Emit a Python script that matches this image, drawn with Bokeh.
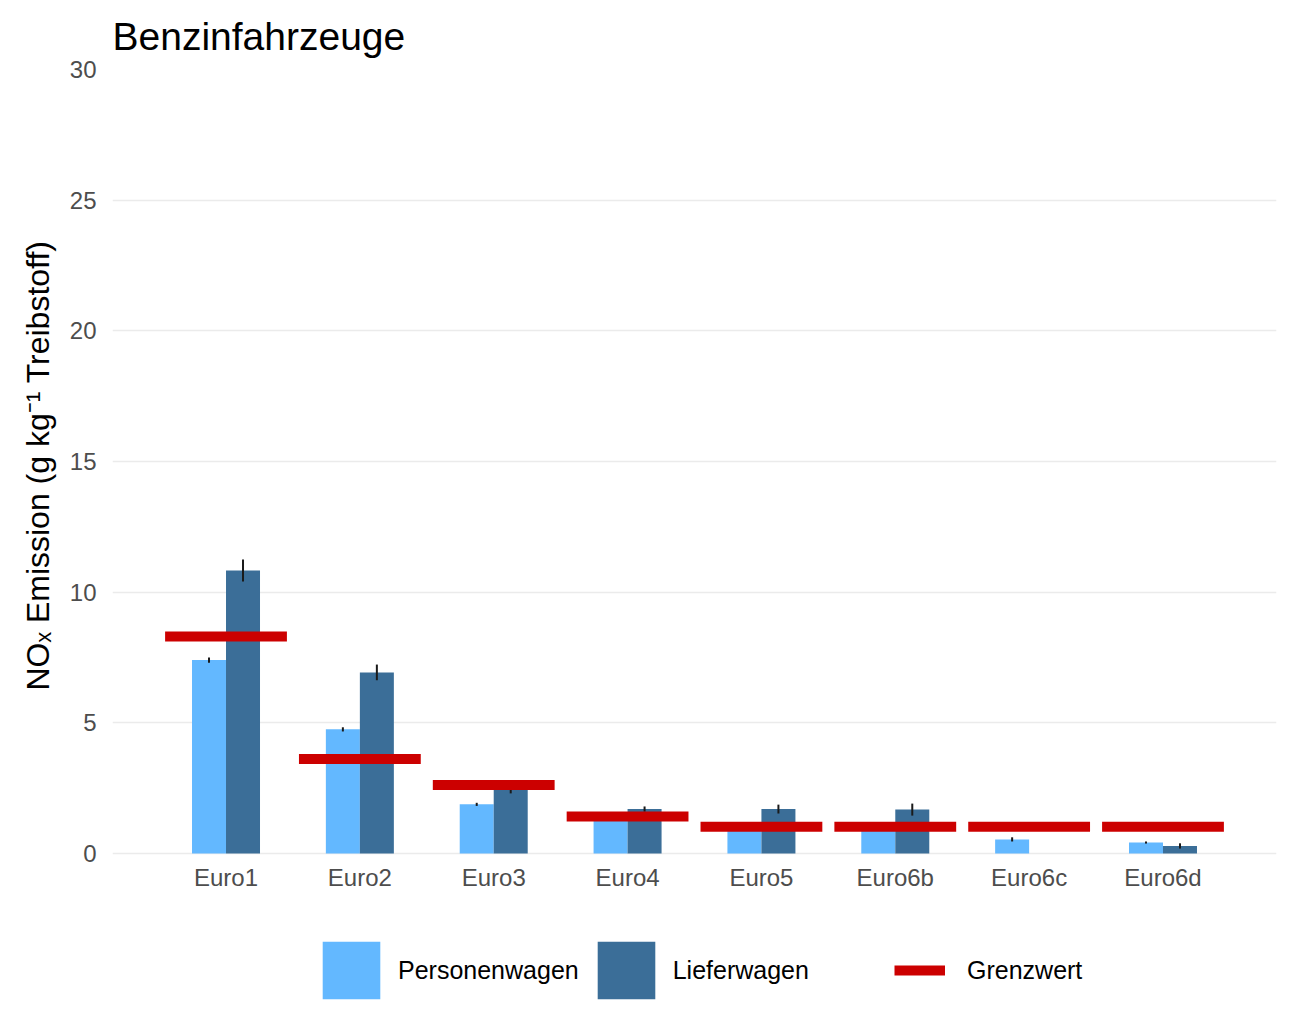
from bokeh.plotting import figure
from bokeh.models import ColumnDataSource, Legend, LegendItem, FactorRange, Range1d, Title
from bokeh.transform import dodge
from bokeh.embed import file_html
from bokeh.resources import INLINE

nan = float("nan")

categories = ["Euro1", "Euro2", "Euro3", "Euro4", "Euro5", "Euro6b", "Euro6c", "Euro6d"]
pw = [7.4, 4.75, 1.88, 1.35, 1.0, 1.0, 0.54, 0.42]
pw_err = [0.1, 0.08, 0.06, 0.08, 0.08, 0.08, 0.08, 0.04]
lw = [10.83, 6.93, 2.5, 1.7, 1.7, 1.68, nan, 0.29]
lw_err = [0.42, 0.3, 0.2, 0.1, 0.17, 0.23, nan, 0.1]
grenz = [8.3, 3.62, 2.62, 1.42, 1.02, 1.02, 1.02, 1.02]

col_pw = "#63B8FF"
col_lw = "#3B6E98"
col_red = "#CC0000"
font = "Liberation Sans"

src = ColumnDataSource(data=dict(
    cat=categories, pw=pw, lw=lw, grenz=grenz,
    pw_lo=[v - e for v, e in zip(pw, pw_err)], pw_hi=[v + e for v, e in zip(pw, pw_err)],
    lw_lo=[v - e for v, e in zip(lw, lw_err)], lw_hi=[v + e for v, e in zip(lw, lw_err)],
))

# frame runs down to the page bottom so the legend can sit inside it;
# 0..30 covers the upper 784 px, the rest is room for axis labels and legend
ppu = 784 / 30
p = figure(width=1291, height=1033,
           x_range=FactorRange(*categories, range_padding=0.348, range_padding_units="absolute"),
           y_range=Range1d(-180 / ppu, 30), output_backend="svg", toolbar_location=None,
           title="Benzinfahrzeuge", min_border_left=112, min_border_right=15,
           min_border_top=69, min_border_bottom=0)

p.outline_line_color = None
p.background_fill_color = "white"

bw = 0.254
pw_r = p.vbar(x=dodge("cat", -bw / 2, range=p.x_range), top="pw", width=bw, source=src,
              fill_color=col_pw, line_color=None)
lw_r = p.vbar(x=dodge("cat", bw / 2, range=p.x_range), top="lw", width=bw, source=src,
              fill_color=col_lw, line_color=None)

p.segment(x0=dodge("cat", -bw / 2, range=p.x_range), x1=dodge("cat", -bw / 2, range=p.x_range),
          y0="pw_lo", y1="pw_hi", source=src, line_color="#1a1a1a", line_width=2)
p.segment(x0=dodge("cat", bw / 2, range=p.x_range), x1=dodge("cat", bw / 2, range=p.x_range),
          y0="lw_lo", y1="lw_hi", source=src, line_color="#1a1a1a", line_width=2)

p.rect(x="cat", y="grenz", width=0.91, height=10, height_units="screen", source=src,
       fill_color=col_red, line_color=None)

# line kept far outside the visible range: only used for the Grenzwert key
red_r = p.line(x=["Euro1", "Euro2"], y=[-100, -100], line_color=col_red, line_width=10)

# title
p.title.text_font = font
p.title.text_font_size = "39px"
p.title.text_font_style = "normal"
p.title.text_color = "black"
p.title.standoff = 23

# axes
for ax in (p.xaxis[0], p.yaxis[0]):
    ax.axis_line_color = None
    ax.major_tick_line_color = None
    ax.minor_tick_line_color = None
    ax.major_tick_in = 0
    ax.major_tick_out = 0
    ax.major_label_text_font = font
    ax.major_label_text_font_size = "24px"
    ax.major_label_text_color = "#4D4D4D"

p.yaxis.ticker = [0, 5, 10, 15, 20, 25, 30]
p.yaxis.major_label_standoff = 16

# y label as a side title so it can be placed against the 0..30 span
ylab = Title(text="NOₓ Emission (g kg⁻¹ Treibstoff)", align="left", offset=343,
             text_font=font, text_font_size="32px", text_font_style="normal",
             text_color="black", standoff=22)
p.add_layout(ylab, "left")

p.xaxis.fixed_location = 0
p.xaxis.major_label_standoff = 10

p.xgrid.grid_line_color = None
p.ygrid.grid_line_color = "#EBEBEB"
p.ygrid.grid_line_width = 1.6

# legends at the foot of the frame
leg1 = Legend(items=[LegendItem(label="Personenwagen", renderers=[pw_r]),
                     LegendItem(label="Lieferwagen", renderers=[lw_r])],
              location=(203, 27), orientation="horizontal",
              glyph_width=72, glyph_height=72, label_standoff=11, spacing=11,
              padding=0, margin=0, border_line_color=None, background_fill_alpha=0,
              label_text_font=font, label_text_font_size="25px", label_text_color="black")
leg2 = Legend(items=[LegendItem(label="Grenzwert", renderers=[red_r])],
              location=(782, 27), orientation="horizontal",
              glyph_width=51, glyph_height=72, label_standoff=22,
              padding=0, margin=0, border_line_color=None, background_fill_alpha=0,
              label_text_font=font, label_text_font_size="25px", label_text_color="black")
p.add_layout(leg1, "center")
p.add_layout(leg2, "center")

open("out.html", "w").write(file_html(p, INLINE))
